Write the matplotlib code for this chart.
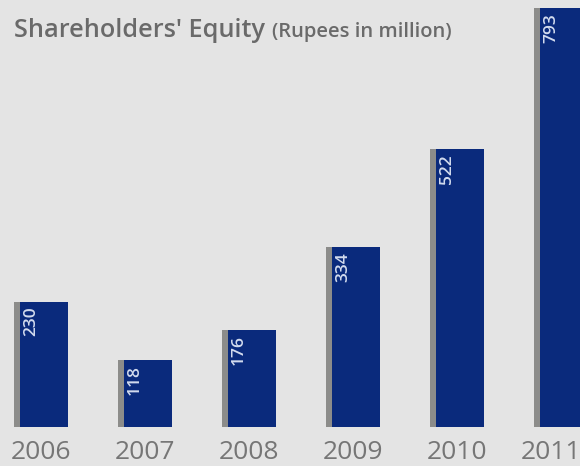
import matplotlib.pyplot as plt
from matplotlib.transforms import offset_copy

years = ["2006", "2007", "2008", "2009", "2010", "2011"]
equity = [230, 118, 176, 334, 522, 793]

bg = "#e4e4e4"
navy = "#0a2a7c"
shade = "#8c8c8a"
grey_txt = "#767676"

fig = plt.figure(figsize=(5.8, 4.66), dpi=100, facecolor=bg)
ax = fig.add_axes([0, 0, 1, 1])
ax.set_facecolor(bg)
ax.set_xlim(-0.394, 5.183)
ax.set_ylim(-85.3, 808.2)
ax.axis("off")

px = 1 / 104.0          # one pixel in x data units
full_w = 54 * px
shade_w = 6 * px
base = -10.5

xs = list(range(len(years)))
for i, v in zip(xs, equity):
    left = i - full_w / 2
    ax.bar(left, v - base, width=shade_w, bottom=base, align="edge",
           color=shade, linewidth=0)
    ax.bar(left + shade_w, v - base, width=full_w - shade_w, bottom=base,
           align="edge", color=navy, linewidth=0)
    # value written upright inside the bar, near the top
    tr = offset_copy(ax.transData, fig=fig, x=11, y=-5, units="dots")
    ax.text(left + shade_w, v, str(v), transform=tr, rotation=90,
            ha="center", va="top", color="#d2dbee", fontsize=12.5,
            family="Open Sans", weight="semibold")

# year labels under the bars; the last one is nudged left at the edge
for i, y in zip(xs, years):
    dx = -10 if i == xs[-1] else 0
    tr = offset_copy(ax.transData, fig=fig, x=dx, y=0, units="dots")
    ax.text(i, -60, y, transform=tr, ha="center", va="center", fontsize=19,
            color=grey_txt, family="Open Sans")

title = fig.text(14 / 580, 1 - 37 / 466, "Shareholders' Equity", fontsize=18.2,
                 color="#6a6a6a", family="Open Sans", weight="semibold",
                 va="baseline", ha="left")
fig.canvas.draw()
bb = title.get_window_extent()
fig.text((bb.x1 + 7) / 580, 1 - 37 / 466, "(Rupees in million)", fontsize=14.5,
         color="#6a6a6a", family="Open Sans", weight="semibold",
         va="baseline", ha="left")

fig.savefig("out.png", dpi=100, facecolor=bg)
